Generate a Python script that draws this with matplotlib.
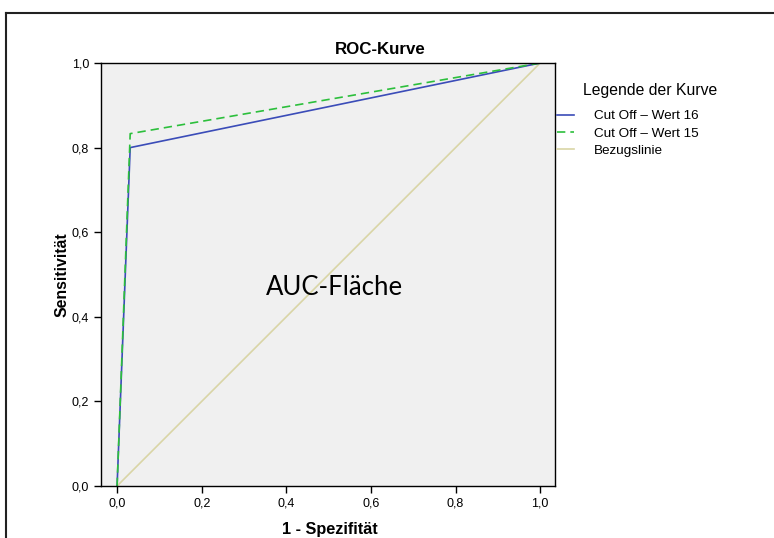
import matplotlib
matplotlib.use("Agg")
import matplotlib.pyplot as plt
from matplotlib.lines import Line2D

plt.rcParams['font.family'] = ['Liberation Sans', 'DejaVu Sans']

# ROC points (1 - Spezifitaet, Sensitivitaet)
fpr_16 = [0.0, 0.031, 1.0]
tpr_16 = [0.0, 0.800, 1.0]
fpr_15 = [0.0, 0.031, 1.0]
tpr_15 = [0.0, 0.833, 1.0]
ref_x = [0.0, 1.0]
ref_y = [0.0, 1.0]

labels = ['Cut Off – Wert 16', 'Cut Off – Wert 15', 'Bezugslinie']
ticks = [0.0, 0.2, 0.4, 0.6, 0.8, 1.0]
tick_labels = ['0,0', '0,2', '0,4', '0,6', '0,8', '1,0']

W, H = 774, 538
fig = plt.figure(figsize=(W / 100, H / 100), dpi=100)
ax = fig.add_axes([101 / W, 1 - 486 / H, 454 / W, 423 / H])
ax.set_facecolor('#f0f0f0')

l3, = ax.plot(ref_x, ref_y, color='#d9d5a6', lw=1.2)
l1, = ax.plot(fpr_16, tpr_16, color='#3b4cb8', lw=1.2)
l2, = ax.plot(fpr_15, tpr_15, color='#2cbf3c', lw=1.2, ls=(0, (5, 3)))

ax.set_xlim(-0.038, 1.035)
ax.set_ylim(0, 1)
ax.set_xticks(ticks)
ax.set_xticklabels(tick_labels)
ax.set_yticks(ticks)
ax.set_yticklabels(tick_labels)
ax.tick_params(direction='out', length=5, width=1, labelsize=9, colors='black')
for s in ax.spines.values():
    s.set_linewidth(1.0)

ax.set_xlabel('1 - Spezifität', fontsize=11.7, fontweight='bold')
ax.set_ylabel('Sensitivität', fontsize=11.4, fontweight='bold')
ax.xaxis.set_label_coords((330 - 101) / 454, (486 - 522) / 423)
ax.yaxis.set_label_coords((70 - 101) / 454, 0.5)

ax.text(0.513, 0.469, 'AUC-Fläche', fontsize=18.5, family='Lato',
        ha='center', va='center')

fig.text(380 / W, 1 - 49 / H, 'ROC-Kurve', fontsize=12.2, fontweight='bold',
         ha='center', va='center')

fig.text(583 / W, 1 - 91 / H, 'Legende der Kurve', fontsize=11.3,
         ha='left', va='center')
fig.legend([l1, l2, l3], labels, loc='upper left',
           bbox_to_anchor=(557 / W, 1 - 110 / H), frameon=False,
           borderpad=0, borderaxespad=0, fontsize=9.7, handlelength=1.26,
           handletextpad=1.48, labelspacing=0.36)

# outer frame
fig.add_artist(Line2D([6 / W, 6 / W], [0, 1 - 13 / H], transform=fig.transFigure,
                      color='#222222', lw=1.5))
fig.add_artist(Line2D([6 / W, 1], [1 - 13 / H, 1 - 13 / H], transform=fig.transFigure,
                      color='#222222', lw=1.5))

fig.savefig('out.png', dpi=100)
